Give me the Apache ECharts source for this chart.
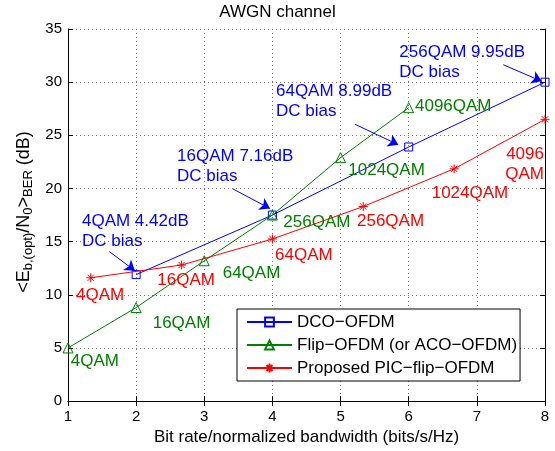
<!DOCTYPE html>
<html><head><meta charset="utf-8">
<script src="https://cdn.jsdelivr.net/npm/echarts@6/dist/echarts.min.js"></script>
<style>html,body{margin:0;padding:0;background:#fff}#c{width:555px;height:451px}</style>
</head><body><div id="c"></div>
<script>
// ---- data ----
const dcoX = [2, 4, 6, 8];
const dcoY = [11.9, 17.5, 23.9, 30.0];
const flipX = [1, 2, 3, 4, 5, 6];
const flipY = [5.0, 8.8, 13.2, 17.5, 22.9, 27.6];
const picX = [1.333, 2.667, 4, 5.333, 6.667, 8];
const picY = [11.6, 12.8, 15.25, 18.3, 21.85, 26.5];
const seriesNames = ['DCO\u2212OFDM', 'Flip\u2212OFDM (or ACO\u2212OFDM)', 'Proposed PIC\u2212flip\u2212OFDM'];
const titleText = 'AWGN channel';
const xName = 'Bit rate/normalized bandwidth (bits/s/Hz)';
// annotation texts with anchor positions in data units
const blueNotes = [
  {t: '4QAM 4.42dB\nDC bias', x: 1.205, y: 17.87},
  {t: '16QAM 7.16dB\nDC bias', x: 2.60, y: 23.94},
  {t: '64QAM 8.99dB\nDC bias', x: 4.052, y: 30.05},
  {t: '256QAM 9.95dB\nDC bias', x: 5.862, y: 33.79}
];
const blueArrows = [
  [[1.606, 14.07], [1.983, 12.26]],
  [[3.417, 19.97], [3.964, 18.11]],
  [[5.212, 26.04], [5.847, 24.11]],
  [[7.388, 31.64], [7.952, 30.08]]
];
const greenNotes = [
  {t: '4QAM', x: 1.040, y: 3.73},
  {t: '16QAM', x: 2.243, y: 7.28},
  {t: '64QAM', x: 3.270, y: 12.04},
  {t: '256QAM', x: 4.160, y: 16.80},
  {t: '1024QAM', x: 5.113, y: 21.68},
  {t: '4096QAM', x: 6.092, y: 27.69}
];
const redNotes = [
  {t: '4QAM', x: 1.117, y: 9.96},
  {t: '16QAM', x: 2.310, y: 11.36},
  {t: '64QAM', x: 4.038, y: 13.69},
  {t: '256QAM', x: 5.241, y: 16.89},
  {t: '1024QAM', x: 6.337, y: 19.51}
];
const redNoteRight = {t: '4096\nQAM', x: 7.985, y: 24.13};

const FONT = "'Liberation Sans', Arial, Helvetica, sans-serif";
const BLUE = '#0000ff', GREEN = '#008000', RED = '#ff0000';
const ASTER = 'path://M5,0L5,10M0,5L10,5M1.6,1.6L8.4,8.4M8.4,1.6L1.6,8.4';

const zip = (xs, ys) => xs.map((x, i) => [x, ys[i]]);

const chart = echarts.init(document.getElementById('c'), null, {renderer: 'canvas'});
const axisCommon = {
  axisLine: {show: true, lineStyle: {color: '#000', width: 1}},
  axisTick: {show: true, inside: true, length: 5, lineStyle: {color: '#000'}},
};
chart.setOption({
  animation: false,
  backgroundColor: '#fff',
  title: {text: titleText, left: 'center', top: 4, padding: 0,
    textStyle: {fontFamily: FONT, fontSize: 17, fontWeight: 'normal', color: '#000'}},
  grid: {left: 68, right: 10, top: 29, bottom: 47},
  legend: {
    data: seriesNames, orient: 'vertical', left: 237, top: 309,
    backgroundColor: '#fff', borderColor: '#000', borderWidth: 1,
    padding: [3, 3, 3, 9], itemWidth: 45, itemHeight: 11, itemGap: 3,
    textStyle: {fontFamily: FONT, fontSize: 17, color: '#000', lineHeight: 20}
  },
  xAxis: [
    Object.assign({type: 'value', min: 1, max: 8, interval: 1, name: xName,
      nameLocation: 'middle', nameGap: 24,
      nameTextStyle: {fontFamily: FONT, fontSize: 17, color: '#000'},
      axisLabel: {fontFamily: FONT, fontSize: 15, color: '#000', margin: 8},
      splitLine: {show: true, lineStyle: {color: '#777', type: [1, 3], width: 1}}}, axisCommon),
    Object.assign({type: 'value', min: 1, max: 8, interval: 1, position: 'top',
      axisLabel: {show: false}, splitLine: {show: false}}, axisCommon)
  ],
  yAxis: [
    Object.assign({type: 'value', min: 0, max: 35, interval: 5,
      axisLabel: {fontFamily: FONT, fontSize: 15, color: '#000', margin: 6},
      splitLine: {show: true, lineStyle: {color: '#777', type: [1, 3], width: 1}}}, axisCommon),
    Object.assign({type: 'value', min: 0, max: 35, interval: 5, position: 'right',
      axisLabel: {show: false}, splitLine: {show: false}}, axisCommon)
  ],
  series: [
    {name: seriesNames[0], type: 'line', data: zip(dcoX, dcoY), symbol: 'rect', symbolSize: 8,
      lineStyle: {color: BLUE, width: 1}, itemStyle: {color: 'rgba(255,255,255,0)', borderColor: BLUE, borderWidth: 1},
      z: 2,
      markLine: {silent: true, symbol: ['none', 'arrow'], symbolSize: 10,
        lineStyle: {color: BLUE, width: 1, type: 'solid'}, label: {show: false},
        emphasis: {disabled: true},
        data: blueArrows.map(a => [{coord: a[0]}, {coord: a[1]}])}},
    {name: seriesNames[1], type: 'line', data: zip(flipX, flipY), symbol: 'triangle', symbolSize: 10,
      lineStyle: {color: GREEN, width: 1}, itemStyle: {color: 'rgba(255,255,255,0)', borderColor: GREEN, borderWidth: 1},
      z: 3},
    {name: seriesNames[2], type: 'line', data: zip(picX, picY), symbol: ASTER, symbolSize: 9,
      lineStyle: {color: RED, width: 1}, itemStyle: {color: RED, borderColor: RED, borderWidth: 1},
      z: 4}
  ]
});

function px(x, y) { return chart.convertToPixel({gridIndex: 0}, [x, y]); }
const g = [];
blueNotes.forEach(n => { const p = px(n.x, n.y);
  g.push({type: 'text', x: p[0], y: p[1], z: 10, style: {text: n.t, fill: BLUE, fontFamily: FONT, fontSize: 17, lineHeight: 20, align: 'left', verticalAlign: 'top'}}); });
greenNotes.forEach(n => { const p = px(n.x, n.y);
  g.push({type: 'text', x: p[0], y: p[1], z: 10, style: {text: n.t, fill: GREEN, fontFamily: FONT, fontSize: 17, align: 'left', verticalAlign: 'middle'}}); });
redNotes.forEach(n => { const p = px(n.x, n.y);
  g.push({type: 'text', x: p[0], y: p[1], z: 10, style: {text: n.t, fill: RED, fontFamily: FONT, fontSize: 17, align: 'left', verticalAlign: 'middle'}}); });
{ const p = px(redNoteRight.x, redNoteRight.y);
  g.push({type: 'text', x: p[0], y: p[1], z: 10, style: {text: redNoteRight.t, fill: RED, fontFamily: FONT, fontSize: 17, lineHeight: 20, align: 'right', verticalAlign: 'top'}}); }
// y-axis label with subscripts
g.push({type: 'text', x: 24, y: 212, rotation: Math.PI / 2, z: 10,
  style: {text: '<E{s|b,(opt)}/N{s|0}>{s|BER} (dB)', fill: '#000', fontFamily: FONT, fontSize: 18, lineHeight: 22,
    align: 'center', verticalAlign: 'middle',
    rich: {s: {fontFamily: FONT, fontSize: 13, lineHeight: 11, verticalAlign: 'bottom', fill: '#000'}}}});
chart.setOption({graphic: g});
</script></body></html>
